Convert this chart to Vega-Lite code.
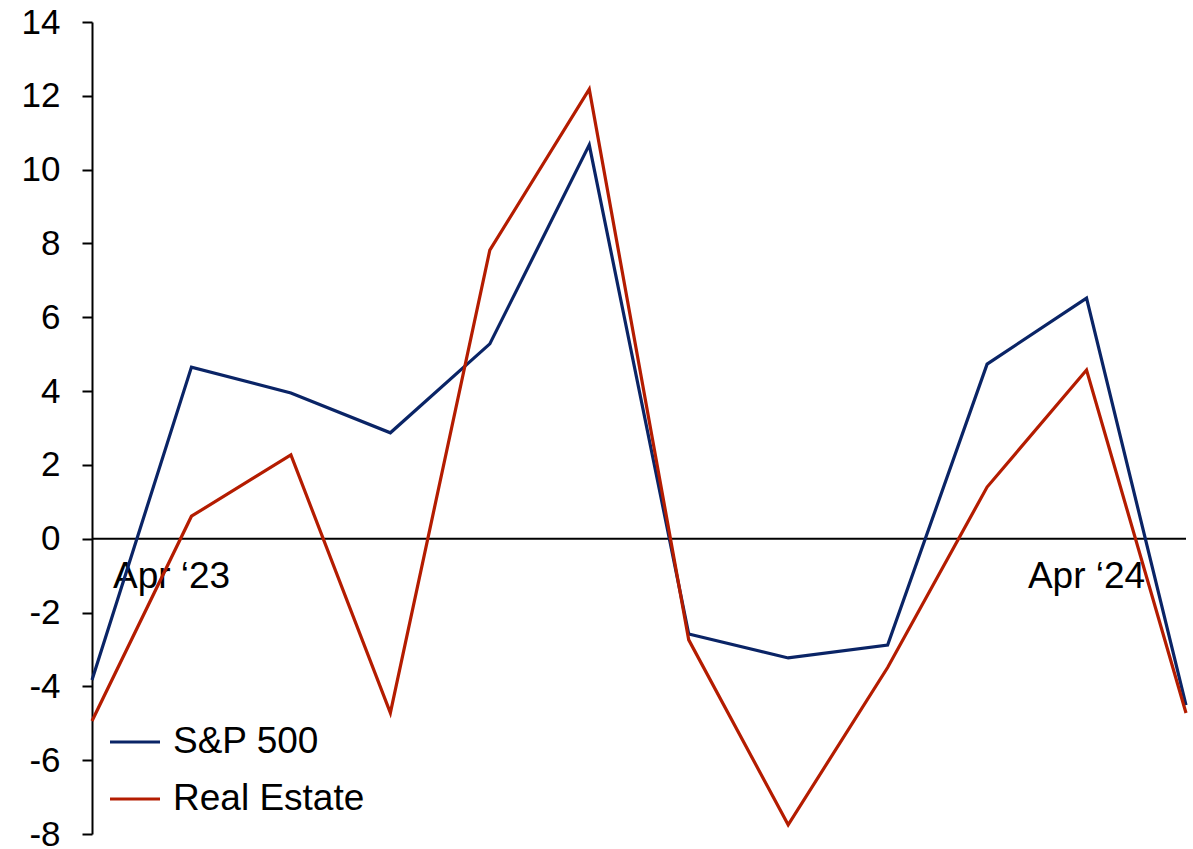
{
  "$schema": "https://vega.github.io/schema/vega-lite/v6.json",
  "width": 1094,
  "height": 812,
  "autosize": "none",
  "padding": {"left": 92, "top": 22, "right": 7, "bottom": 15},
  "background": "white",
  "config": {"view": {"stroke": null}, "font": "Liberation Sans"},
  "datasets": {
    "series": [
      {"i": 0, "series": "S&P 500", "value": -3.83},
      {"i": 1, "series": "S&P 500", "value": 4.65},
      {"i": 2, "series": "S&P 500", "value": 3.95},
      {"i": 3, "series": "S&P 500", "value": 2.87},
      {"i": 4, "series": "S&P 500", "value": 5.28},
      {"i": 5, "series": "S&P 500", "value": 10.67},
      {"i": 6, "series": "S&P 500", "value": -2.58},
      {"i": 7, "series": "S&P 500", "value": -3.23},
      {"i": 8, "series": "S&P 500", "value": -2.88},
      {"i": 9, "series": "S&P 500", "value": 4.73},
      {"i": 10, "series": "S&P 500", "value": 6.52},
      {"i": 11, "series": "S&P 500", "value": -4.51},
      {"i": 0, "series": "Real Estate", "value": -4.94},
      {"i": 1, "series": "Real Estate", "value": 0.61},
      {"i": 2, "series": "Real Estate", "value": 2.27},
      {"i": 3, "series": "Real Estate", "value": -4.72},
      {"i": 4, "series": "Real Estate", "value": 7.82},
      {"i": 5, "series": "Real Estate", "value": 12.18},
      {"i": 6, "series": "Real Estate", "value": -2.74},
      {"i": 7, "series": "Real Estate", "value": -7.75},
      {"i": 8, "series": "Real Estate", "value": -3.49},
      {"i": 9, "series": "Real Estate", "value": 1.40},
      {"i": 10, "series": "Real Estate", "value": 4.57},
      {"i": 11, "series": "Real Estate", "value": -4.72}
    ],
    "labels": [
      {"i": 0.8, "v": -1.04, "label": "Apr ‘23"},
      {"i": 10.0, "v": -1.04, "label": "Apr ‘24"}
    ],
    "zero": [{"i0": 0, "i1": 11, "v": 0}]
  },
  "layer": [
    {
      "data": {"name": "zero"},
      "mark": {"type": "rule", "color": "black", "strokeWidth": 2},
      "encoding": {
        "x": {"field": "i0", "type": "quantitative", "scale": {"domain": [0, 11], "nice": false}, "axis": null},
        "x2": {"field": "i1"},
        "y": {"field": "v", "type": "quantitative", "scale": {"domain": [-8, 14], "nice": false}}
      }
    },
    {
      "data": {"name": "labels"},
      "mark": {"type": "text", "fontSize": 37, "color": "black", "align": "center", "baseline": "middle", "font": "Liberation Sans"},
      "encoding": {
        "x": {"field": "i", "type": "quantitative"},
        "y": {"field": "v", "type": "quantitative"},
        "text": {"field": "label"}
      }
    },
    {
      "data": {"name": "series"},
      "mark": {"type": "line", "strokeWidth": 3.2},
      "encoding": {
        "x": {"field": "i", "type": "quantitative"},
        "y": {
          "field": "value",
          "type": "quantitative",
          "axis": {
            "title": null,
            "values": [-8, -6, -4, -2, 0, 2, 4, 6, 8, 10, 12, 14],
            "labelExpr": "'' + datum.value",
            "grid": false,
            "domainColor": "black",
            "domainWidth": 2,
            "tickColor": "black",
            "tickWidth": 2,
            "tickSize": 10,
            "labelFontSize": 35,
            "labelColor": "black",
            "labelFont": "Liberation Sans",
            "labelPadding": 22
          }
        },
        "color": {
          "field": "series",
          "type": "nominal",
          "scale": {"domain": ["S&P 500", "Real Estate"], "range": ["#0A2466", "#B41C00"]},
          "legend": {
            "title": null,
            "orient": "none",
            "legendX": 16,
            "legendY": 693,
            "symbolType": "stroke",
            "symbolSize": 2500,
            "symbolStrokeWidth": 3.2,
            "labelFontSize": 37,
            "labelFont": "Liberation Sans",
            "labelColor": "black",
            "labelOffset": 11,
            "labelLimit": 500,
            "rowPadding": 12
          }
        }
      }
    }
  ]
}
